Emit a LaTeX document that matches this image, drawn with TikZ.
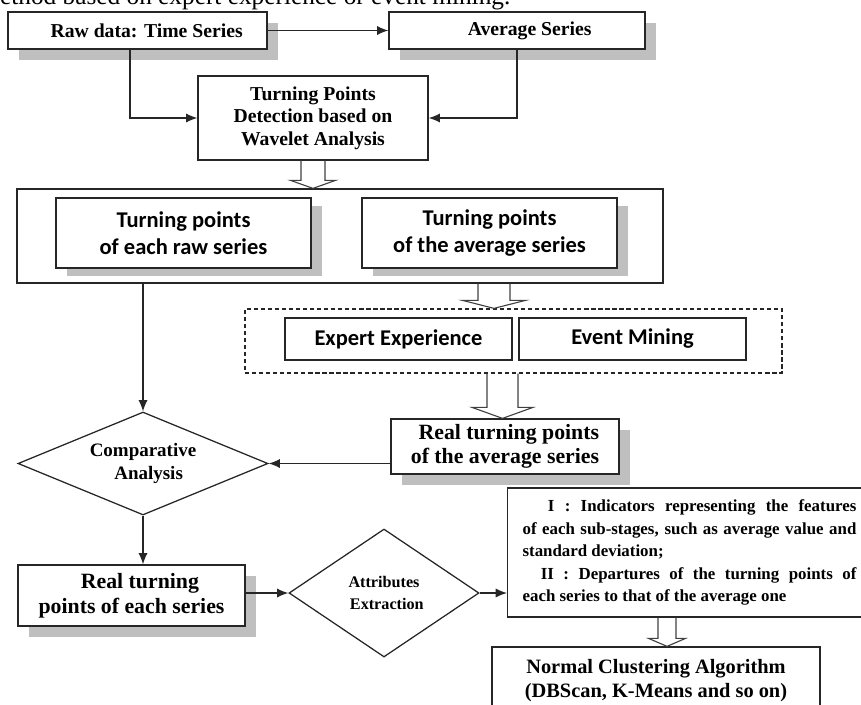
\documentclass[tikz,border=0pt]{standalone}
\usepackage{fontspec}
\setmainfont{Liberation Serif}
\newfontfamily\calfont{Carlito}
\usetikzlibrary{arrows.meta,shapes.geometric,shadows,calc}

% one unit of the picture
\newcommand{\pxu}{0.025cm}

% open block arrow: start, tip, half shaft, half head, head length
\newcommand{\hollowarrow}[5]{%
  \draw[hollow] ($(#1)+(-#3,0)$) -- ($(#2)+(-#3,-#5)$) -- ($(#2)+(-#4,-#5)$)
    -- (#2) -- ($(#2)+(#4,-#5)$) -- ($(#2)+(#3,-#5)$) -- ($(#1)+(#3,0)$);}

\tikzset{
  box/.style={draw=black!85, line width=0.9pt, fill=white, inner sep=0pt, align=center,
    font=\bfseries\fontsize{14}{16}\selectfont},
  boxshadow/.style={drop shadow={shadow xshift=7.8pt, shadow yshift=-7.8pt,
    fill=black!25, opacity=1}},
  calbox/.style={box, font=\calfont\bfseries\fontsize{16}{19}\selectfont},
  realbox/.style={box, boxshadow, font=\bfseries\fontsize{15.5}{17.5}\selectfont},
  decision/.style={diamond, draw=black!85, line width=0.9pt, inner sep=0pt, align=center},
  conn/.style={draw=black!85, line width=0.9pt, -{Latex[length=8pt,width=6.5pt]}},
  hollow/.style={draw=black!75, line width=0.8pt}
}

\begin{document}
\begin{tikzpicture}[x=\pxu, y=-\pxu]
\useasboundingbox (0,0) rectangle (861,704);

\node[anchor=base west, font=\fontsize{18}{20}\selectfont, inner sep=0pt]
  (cap) at (-19.9,4.5) {method based on expert experience or event mining.};

% top row
\node[box, boxshadow, minimum width=259*\pxu, minimum height=37*\pxu]
  (raw) at (137.5,30.5) {\hspace*{13pt}Raw data: Time Series};
\node[box, boxshadow, minimum width=256*\pxu, minimum height=37*\pxu]
  (avg) at (517,30.5) {\hspace*{18pt}Average Series};
\node[box, minimum width=230*\pxu, minimum height=84*\pxu]
  (tpd) at (313,118) {Turning Points\\Detection based on\\Wavelet Analysis};

\draw[conn] (raw.east) -- (avg.west);
\draw[conn] ($(raw.south)+(-7.5,0)$) |- (tpd.west);
\draw[conn] (avg.south) |- (tpd.east);

% turning points of both kinds
\node[draw=black!85, line width=0.9pt, minimum width=646*\pxu, minimum height=94*\pxu]
  (big) at (340,236) {};
\node[calbox, minimum width=255*\pxu, minimum height=70*\pxu,
  drop shadow={shadow xshift=7.8pt, shadow yshift=-5.7pt, fill=black!25, opacity=1}]
  (tpeach) at (183.5,233) {Turning points\\of each raw series};
\node[calbox, minimum width=255*\pxu, minimum height=70*\pxu,
  drop shadow={shadow xshift=7.8pt, shadow yshift=-5.7pt, fill=black!25, opacity=1}]
  (tpavg) at (489.5,233) {Turning points\\of the average series};

\coordinate (h1a) at (tpd.south);
\coordinate (h1b) at (tpd.south |- big.north);
\hollowarrow{h1a}{h1b}{12}{22.5}{8}

% expert experience / event mining
\node[draw=black!85, line width=0.9pt, dash pattern=on 3pt off 2pt,
  minimum width=537*\pxu, minimum height=64*\pxu] (dash) at (513.5,341) {};
\node[calbox, minimum width=227*\pxu, minimum height=42*\pxu]
  (expert) at (398.5,339) {Expert Experience};
\node[calbox, minimum width=227*\pxu, minimum height=42*\pxu]
  (event) at (632.5,339) {Event Mining};

\coordinate (h2a) at ($(big.south)+(154,0)$);
\coordinate (h2b) at (h2a |- dash.north);
\hollowarrow{h2a}{h2b}{16}{31.5}{8}

\node[realbox, align=right, minimum width=228*\pxu, minimum height=55*\pxu]
  (rtavg) at (505,446.5) {Real turning points\\of the average series};

\coordinate (h3a) at ($(dash.south)+(-11,0)$);
\coordinate (h3b) at (h3a |- rtavg.north);
\hollowarrow{h3a}{h3b}{15.5}{30.5}{11}

% comparison and attributes
\node[decision, aspect=2.4, minimum width=250*\pxu, minimum height=103*\pxu,
  font=\bfseries\fontsize{13.5}{17}\selectfont]
  (ca) at (143,463.5) {Comparative\\\hspace*{8pt}Analysis};
\node[realbox, minimum width=227*\pxu, minimum height=61*\pxu]
  (rteach) at (131.5,595.5) {\hspace*{12pt}Real turning\\points of each series};
\node[decision, aspect=1.48, minimum width=190*\pxu, minimum height=128*\pxu,
  font=\bfseries\fontsize{11.5}{16}\selectfont]
  (ae) at (384,593) {Attributes\\\hspace*{4pt}Extraction};

\draw[conn] (ca.north |- big.south) -- (ca.north);
\draw[conn] (rtavg.west |- ca.east) -- (ca.east);
\draw[conn] (ca.south) -- (ca.south |- rteach.north);
\draw[conn] (rteach.east |- ae.west) -- (ae.west);

% features and clustering
\node[box, align=justify, text width=237.4pt, inner xsep=15*\pxu, minimum height=129*\pxu,
  font=\bfseries\fontsize{12}{16}\selectfont] (feat) at (689.5,552.5) {%
  \noindent\hspace*{18pt}I : Indicators representing the features\linebreak
  of each sub-stages, such as average value and\linebreak
  standard deviation;\par
  \noindent\hspace*{13pt}II : Departures of the turning points of\linebreak
  each series to that of the average one};
\node[box, minimum width=328*\pxu, minimum height=68*\pxu,
  font=\bfseries\fontsize{14.5}{17}\selectfont]
  (norm) at (656,681) {Normal Clustering Algorithm\\(DBScan, K-Means and so on)};

\draw[conn] (ae.east) -- (ae.east -| feat.west);

\coordinate (h4b) at ($(norm.north)+(11,0)$);
\coordinate (h4a) at (h4b |- feat.south);
\hollowarrow{h4a}{h4b}{9}{18.5}{8}
\end{tikzpicture}
\end{document}
